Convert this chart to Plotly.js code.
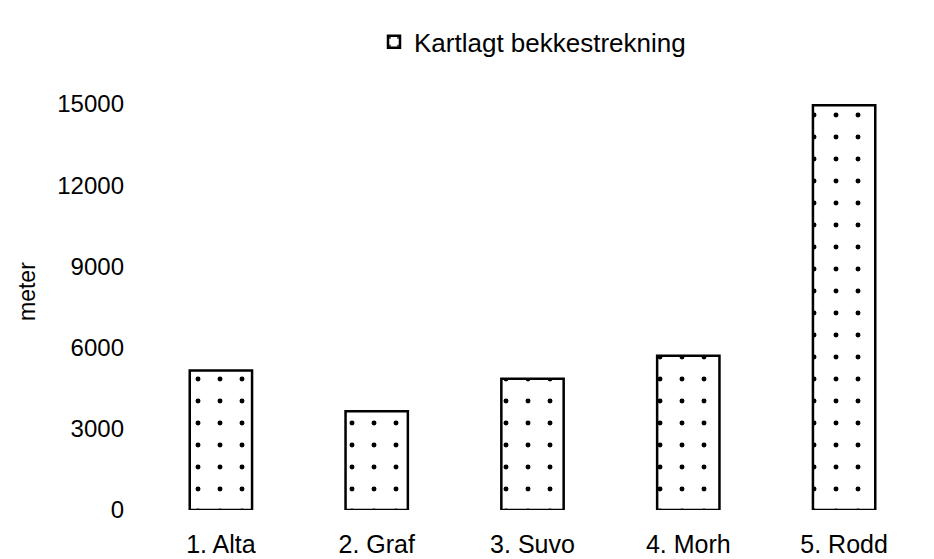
<!DOCTYPE html>
<html>
<head>
<meta charset="utf-8">
<script src="https://cdn.plot.ly/plotly-3.0.1.min.js"></script>
<style>html,body{margin:0;padding:0;background:#fff;}#chart{width:934px;height:559px;}</style>
</head>
<body>
<div id="chart"></div>
<script>
const categories = ["1. Alta", "2. Graf", "3. Suvo", "4. Morh", "5. Rodd"];
const values = [5150, 3650, 4850, 5700, 14950];
const seriesName = "Kartlagt bekkestrekning";
const yTitle = "meter";
const yTicks = [0, 3000, 6000, 9000, 12000, 15000];

const trace = {
  type: "bar",
  x: categories,
  y: values,
  name: seriesName,
  showlegend: true,
  marker: {
    color: "#ffffff",
    line: {color: "#000000", width: 2.5},
    pattern: {shape: ".", size: 22, solidity: 0.04, fgcolor: "#000000", bgcolor: "#ffffff"}
  },
  hoverinfo: "none"
};

const layout = {
  width: 934,
  height: 559,
  margin: {l: 143, r: 12, t: 104, b: 49},
  paper_bgcolor: "#ffffff",
  plot_bgcolor: "#ffffff",
  font: {family: "Liberation Sans, Arial, sans-serif", size: 24, color: "#000000"},
  bargap: 0.6,
  showlegend: true,
  legend: {
    orientation: "h",
    x: 0.5, xanchor: "center",
    y: 1.153, yanchor: "middle",
    font: {size: 26},
    itemwidth: 30
  },
  xaxis: {
    type: "category",
    showgrid: false,
    zeroline: false,
    showline: false,
    ticks: "",
    automargin: false,
    ticklabelstandoff: 17,
    tickfont: {size: 25}
  },
  yaxis: {
    range: [0, 15000],
    tickvals: yTicks,
    ticktext: yTicks.map(String),
    showgrid: false,
    zeroline: false,
    showline: false,
    ticks: "",
    automargin: false,
    ticklabelstandoff: 18,
    tickfont: {size: 24}
  },
  annotations: [{
    text: yTitle,
    xref: "paper", yref: "paper",
    x: 0, y: 0.537,
    xanchor: "center", yanchor: "middle",
    xshift: -116,
    textangle: -90,
    showarrow: false,
    font: {size: 23, color: "#000000"}
  }]
};

Plotly.newPlot("chart", [trace], layout, {displayModeBar: false, staticPlot: true});
</script>
</body>
</html>
